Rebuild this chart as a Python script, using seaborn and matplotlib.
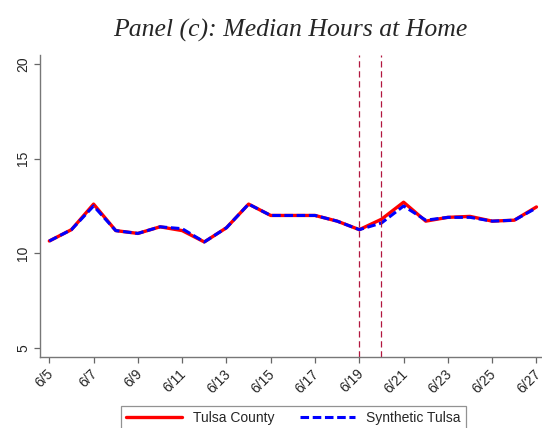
import numpy as np
import pandas as pd
import matplotlib
matplotlib.use("Agg")
import matplotlib.pyplot as plt
import matplotlib.transforms as mtransforms
import seaborn as sns

# June days and median hours at home
days = list(range(5, 28))
tulsa_county = [10.65, 11.25, 12.6, 11.2, 11.05, 11.4, 11.2, 10.6, 11.35, 12.6, 12.0,
                12.0, 12.0, 11.7, 11.25, 11.8, 12.7, 11.7, 11.9, 11.95, 11.7, 11.75, 12.45]
synthetic_tulsa = [10.65, 11.25, 12.5, 11.2, 11.05, 11.4, 11.3, 10.6, 11.35, 12.6, 12.0,
                   12.0, 12.0, 11.7, 11.25, 11.6, 12.5, 11.75, 11.9, 11.9, 11.7, 11.75, 12.4]
event_days = [19, 20]
tick_days = list(range(5, 28, 2))
tick_labels = ["6/%d" % d for d in tick_days]

df = pd.DataFrame({"day": days, "Tulsa County": tulsa_county,
                   "Synthetic Tulsa": synthetic_tulsa})

sns.set_style("ticks")
plt.rcParams["font.family"] = ["Liberation Sans", "DejaVu Sans"]

fig = plt.figure(figsize=(5.42, 4.28), dpi=100)
ax = fig.add_axes([0.0738, 0.1659, 0.9262, 0.7056])

sns.lineplot(data=df, x="day", y="Tulsa County", color="red", linewidth=2.4,
             label="Tulsa County", ax=ax)
sns.lineplot(data=df, x="day", y="Synthetic Tulsa", color="blue", linewidth=2.2,
             linestyle=(0, (2.8, 1.2)), label="Synthetic Tulsa", ax=ax)

for d in event_days:
    ax.axvline(d, color="#b2163f", linestyle=(0, (5, 3)), linewidth=0.9)

ax.set_xlim(4.58, 27.25)
ax.set_ylim(4.52, 20.48)
ax.set_xticks(tick_days)
ax.set_xticklabels(tick_labels, rotation=45, ha="right", rotation_mode="anchor")
ax.set_yticks([5, 10, 15, 20])
ax.set_yticklabels(["5", "10", "15", "20"], rotation=90, va="center")
ax.set_xlabel("")
ax.set_ylabel("")
ax.tick_params(axis="both", length=4, width=0.9, color="#666666", labelsize=10, pad=3)

# nudge the rotated date labels a little left so the last one stays inside
shift = mtransforms.ScaledTranslation(-3 / 100, 0, fig.dpi_scale_trans)
for lab in ax.get_xticklabels():
    lab.set_transform(lab.get_transform() + shift)

sns.despine(ax=ax)
for s in ["left", "bottom"]:
    ax.spines[s].set_color("#777777")
    ax.spines[s].set_linewidth(1.0)

fig.text(0.535, 0.93, "Panel (c): Median Hours at Home", ha="center", va="center",
         fontsize=18.5, style="italic", family=["Liberation Serif", "DejaVu Serif"])

leg = ax.legend(loc="upper center", bbox_to_anchor=(0.505, -0.14), ncol=2, frameon=True,
                fancybox=False, edgecolor="#777777", fontsize=10, handlelength=4.0,
                columnspacing=1.8, borderpad=0.35)
leg.get_frame().set_linewidth(0.9)

fig.savefig("out.png", dpi=100)
